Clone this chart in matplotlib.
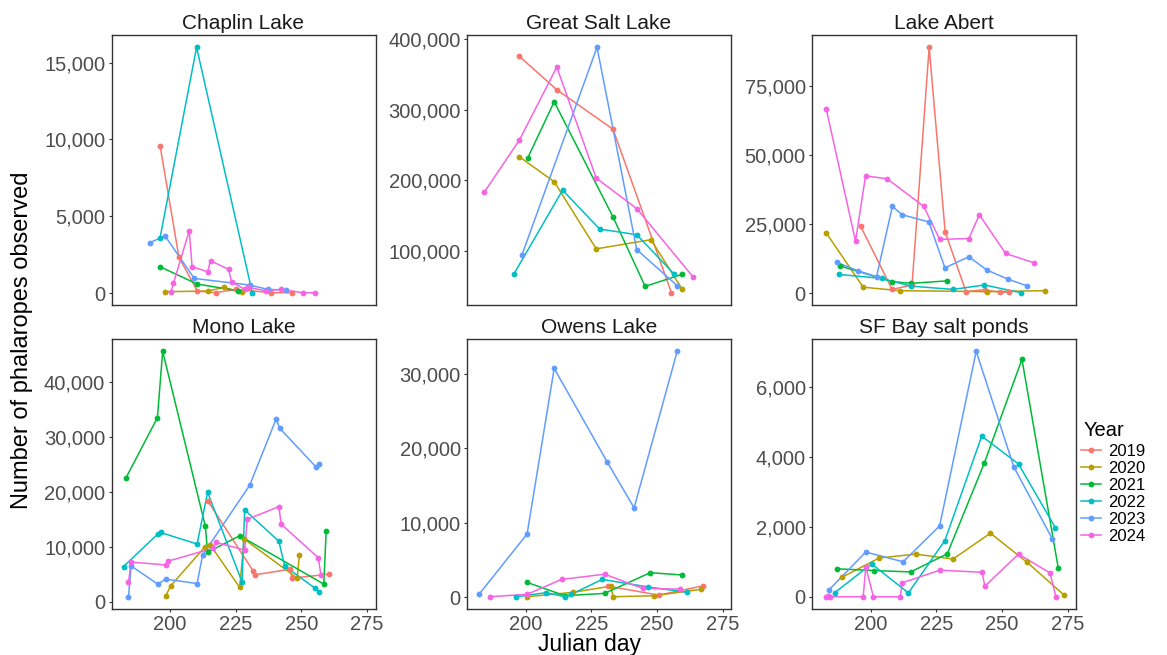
import matplotlib
matplotlib.use("Agg")
import matplotlib.pyplot as plt
from matplotlib.ticker import FuncFormatter, MultipleLocator
from matplotlib.lines import Line2D

plt.rcParams['font.family'] = ['Liberation Sans', 'DejaVu Sans']

years = ["2019", "2020", "2021", "2022", "2023", "2024"]
colors = ["#F8766D", "#B79F00", "#00BA38", "#00BFC4", "#619CFF", "#F564E3"]
lakes = ["Chaplin Lake", "Great Salt Lake", "Lake Abert",
         "Mono Lake", "Owens Lake", "SF Bay salt ponds"]

# ---- Chaplin Lake ----
chaplin_days = {
    "2019": [196.2, 203.4, 210.4, 217.4, 225.2, 238.5, 246.5],
    "2020": [198.1, 214.5, 220.5, 227.2],
    "2021": [196.2, 210.4, 226.0],
    "2022": [196.2, 210.1, 231.3],
    "2023": [192.2, 198.1, 209.2, 230.3, 237.2, 244.2],
    "2024": [200.4, 201.3, 207.3, 208.4, 214.3, 215.4, 222.3, 223.4, 228.4, 229.7, 236.4, 242.3, 250.5, 255.3],
}
chaplin_counts = {
    "2019": [9600, 2320, 130, 20, 240, 20, 20],
    "2020": [85, 130, 370, 40],
    "2021": [1710, 580, 150],
    "2022": [3590, 16000, 20],
    "2023": [3270, 3720, 950, 520, 240, 195],
    "2024": [85, 630, 4050, 1710, 1390, 2100, 1540, 735, 240, 370, 150, 240, 20, 20],
}

# ---- Great Salt Lake ----
gsl_days = {
    "2019": [197.7, 211.9, 233.3, 255.5],
    "2020": [197.7, 210.9, 226.9, 247.7, 259.6],
    "2021": [200.9, 210.9, 233.3, 245.5, 259.6],
    "2022": [195.5, 214.1, 228.2, 242.3, 256.4],
    "2023": [198.7, 227.2, 242.3, 257.7],
    "2024": [184.3, 197.7, 211.9, 226.9, 242.3, 263.8],
}
gsl_counts = {
    "2019": [375000, 328000, 272000, 41000],
    "2020": [233000, 198000, 103000, 116000, 46000],
    "2021": [232000, 311000, 148000, 50000, 67000],
    "2022": [67000, 186000, 131000, 123000, 68000],
    "2023": [95000, 388000, 102000, 51000],
    "2024": [183000, 257000, 360000, 203000, 160000, 63000],
}

# ---- Lake Abert ----
abert_days = {
    "2019": [196.2, 208.2, 215.8, 222.3, 228.4, 236.3, 243.5, 249.3, 252.5],
    "2020": [183.1, 197.2, 211.1, 244.3, 266.4],
    "2021": [188.4, 208.3, 215.5, 229.2],
    "2022": [188.1, 204.2, 215.3, 231.4, 243.3, 257.3],
    "2023": [187.1, 195.3, 202.3, 208.3, 212.1, 222.2, 228.3, 237.4, 244.3, 252.3, 259.5],
    "2024": [183.2, 194.3, 198.1, 206.3, 220.2, 226.3, 237.4, 241.4, 251.4, 262.2],
}
abert_counts = {
    "2019": [24300, 1400, 3000, 89000, 22200, 600, 1300, 300, 500],
    "2020": [21900, 2200, 940, 600, 940],
    "2021": [9900, 4200, 3600, 4500],
    "2022": [6800, 5400, 2600, 1400, 3000, 200],
    "2023": [11200, 8100, 6000, 31400, 28400, 25800, 9200, 13200, 8400, 5100, 2700],
    "2024": [66500, 18800, 42500, 41400, 31500, 19500, 19800, 28400, 14400, 11000],
}

# ---- Mono Lake ----
mono_days = {
    "2019": [214.3, 231.6, 232.5, 245.5, 246.5, 260.6],
    "2020": [198.4, 200.3, 213.3, 215.2, 226.5, 228.2, 248.4, 249.2],
    "2021": [183.3, 195.2, 197.2, 213.4, 214.3, 226.5, 258.5, 259.4],
    "2022": [182.3, 195.3, 196.4, 210.3, 214.3, 227.4, 228.4, 241.4, 243.6, 255.3, 256.6],
    "2023": [184.2, 185.2, 195.3, 198.4, 210.3, 212.4, 230.3, 240.4, 241.7, 255.6, 256.6],
    "2024": [184.2, 185.2, 198.4, 199.4, 216.2, 217.4, 228.4, 229.4, 241.4, 242.3, 256.4, 257.4],
}
mono_counts = {
    "2019": [18400, 5600, 4900, 5900, 4300, 5000],
    "2020": [1100, 2900, 10000, 10400, 2600, 11400, 4300, 8500],
    "2021": [22600, 33500, 45600, 13800, 9000, 12000, 3200, 12900],
    "2022": [6400, 12300, 12600, 10500, 19900, 3600, 16700, 11000, 6500, 2400, 1700],
    "2023": [900, 6500, 3200, 4100, 3300, 8500, 21200, 33300, 31600, 24500, 25000],
    "2024": [3500, 7200, 6700, 7400, 9700, 10800, 9400, 15000, 17300, 14100, 8000, 4900],
}

# ---- Owens Lake ----
owens_days = {
    "2019": [231.5, 250.6, 267.7],
    "2020": [200.6, 218.0, 232.4, 233.3, 248.7, 266.7],
    "2021": [200.6, 215.0, 230.1, 247.4, 259.6],
    "2022": [196.5, 207.7, 215.0, 217.3, 229.2, 246.5, 261.5],
    "2023": [182.4, 200.6, 210.9, 231.0, 241.3, 257.7],
    "2024": [186.3, 200.6, 213.7, 230.1, 244.5, 258.6],
}
owens_counts = {
    "2019": [1500, 300, 1550],
    "2020": [80, 670, 1500, 80, 210, 1070],
    "2021": [2000, 210, 530, 3300, 3000],
    "2022": [80, 620, 80, 400, 2400, 1400, 670],
    "2023": [440, 8500, 30700, 18200, 12000, 33000],
    "2024": [80, 400, 2400, 3100, 1200, 1100],
}

# ---- SF Bay salt ponds ----
sf_days = {
    "2020": [189.2, 203.3, 217.2, 231.4, 245.6, 259.5, 273.6],
    "2021": [187.1, 201.4, 215.3, 229.2, 243.3, 257.6, 271.4],
    "2022": [186.3, 200.4, 214.4, 228.3, 242.3, 256.3, 270.3],
    "2023": [184.1, 198.2, 212.4, 226.3, 240.2, 254.5, 269.2],
    "2024": [182.9, 183.7, 184.6, 197.2, 198.2, 201.1, 211.3, 212.1, 226.4, 242.4, 243.5, 256.3, 268.3, 270.5],
}
sf_counts = {
    "2020": [560, 1110, 1220, 1080, 1820, 990, 50],
    "2021": [800, 750, 710, 1230, 3830, 6800, 830],
    "2022": [110, 940, 110, 1610, 4600, 3800, 1980],
    "2023": [190, 1280, 1000, 2030, 7030, 3720, 1650],
    "2024": [0, 20, 0, 0, 850, 0, 0, 400, 760, 700, 300, 1220, 680, 0],
}

x_ticks = [200, 225, 250, 275]
y_steps = [5000, 100000, 25000, 10000, 10000, 2000]

panel_days = [chaplin_days, gsl_days, abert_days, mono_days, owens_days, sf_days]
panel_counts = [chaplin_counts, gsl_counts, abert_counts, mono_counts, owens_counts, sf_counts]

W, H = 1167, 655
fig = plt.figure(figsize=(W / 100, H / 100), dpi=100)
fig.patch.set_facecolor("white")

col_left = [111.5, 467, 812]
pw = 264
row_top = [35, 339]
ph = 270

# shared x range with ggplot 5% expansion
all_x = [d for pdays in panel_days for v in pdays.values() for d in v]
xmin, xmax = min(all_x), max(all_x)
xr = xmax - xmin
xlim = (xmin - 0.05 * xr, xmax + 0.05 * xr)

fmt = FuncFormatter(lambda v, p: f"{int(round(v)):,}")

for i, lake in enumerate(lakes):
    r, c = divmod(i, 3)
    ax = fig.add_axes([col_left[c] / W, 1 - (row_top[r] + ph) / H, pw / W, ph / H])
    days = panel_days[i]
    counts = panel_counts[i]
    allv = []
    for y, col in zip(years, colors):
        if y not in days:
            continue
        ax.plot(days[y], counts[y], color=col, lw=1.1, zorder=2)
        allv += counts[y]
    for y, col in zip(years, colors):
        if y not in days:
            continue
        ax.plot(days[y], counts[y], ls="none", marker="o", ms=4.2, color=col,
                markeredgewidth=0, zorder=3)
    lo, hi = min(allv), max(allv)
    rg = hi - lo
    ax.set_ylim(lo - 0.05 * rg, hi + 0.05 * rg)
    ax.set_xlim(*xlim)
    ax.set_xticks(x_ticks)
    ax.yaxis.set_major_locator(MultipleLocator(y_steps[i]))
    ax.yaxis.set_major_formatter(fmt)
    ax.tick_params(axis="both", length=2.5, width=0.8, color="#333333",
                   labelsize=14.5, labelcolor="#4D4D4D", pad=2)
    if r == 0:
        ax.tick_params(axis="x", labelbottom=False, length=0)
    for s in ax.spines.values():
        s.set_color("#333333")
        s.set_linewidth(1.0)
    ax.set_title(lake, fontsize=15, color="#1A1A1A", pad=4)

fig.text(22 / W, 1 - 340 / H, "Number of phalaropes observed", rotation=90,
         ha="center", va="center", fontsize=17, color="black")
fig.text(590 / W, 1 - 645 / H, "Julian day", ha="center", va="center",
         fontsize=16.5, color="black")

fig.text(1084 / W, 1 - 431 / H, "Year", ha="left", va="center",
         fontsize=14.5, color="black")
handles = [Line2D([0], [0], color=c, lw=1.1, marker="o", ms=4.2, markeredgewidth=0)
           for c in colors]
fig.legend(handles, years, loc="upper left", bbox_to_anchor=(1081 / W, 1 - 444 / H),
           frameon=False, fontsize=12, handlelength=1.2, handletextpad=0.45,
           labelspacing=0.12, borderaxespad=0, borderpad=0)

fig.savefig("out.png", dpi=100, facecolor="white")
